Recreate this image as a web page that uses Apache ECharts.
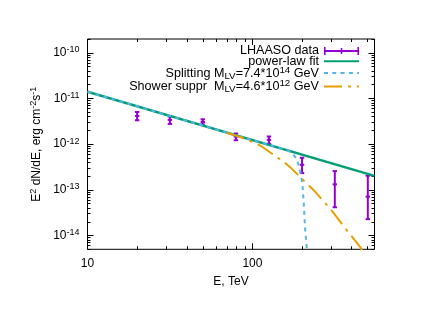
<!DOCTYPE html>
<html><head><meta charset="utf-8">
<script src="https://cdn.jsdelivr.net/npm/echarts@6/dist/echarts.min.js"></script>
<style>html,body{margin:0;padding:0;background:#fff}#c{width:441px;height:312px}</style>
</head><body><div id="c"></div>
<script>
// ---- data ----
const dataEnergy = [20, 31.6, 50, 79.4, 126, 200, 316, 501];
const dataFlux   = [4.14e-12, 3.39e-12, 3.06e-12, 1.47e-12, 1.24e-12, 3.54e-13, 1.32e-13, 7.1e-14];
const dataLow    = [3.33e-12, 2.77e-12, 2.69e-12, 1.22e-12, 1.02e-12, 2.33e-13, 4.16e-14, 2.28e-14];
const dataHigh   = [5.06e-12, 4.02e-12, 3.50e-12, 1.71e-12, 1.47e-12, 5.03e-13, 2.57e-13, 2.04e-13];

const fitEnergy = [10, 550];
const fitFlux   = [1.40e-11, 2.02e-13];

const splitEnergy = [10, 50, 100, 150, 165, 175, 185, 192, 197, 201, 204.5, 208.5, 214, 218];
const splitFlux   = [1.40e-11, 2.55e-12, 1.225e-12, 7.98e-13, 7.15e-13, 6.3e-13, 4.8e-13, 3.3e-13, 2.1e-13, 1.35e-13, 5.5e-14, 1.5e-14, 5e-15, 3e-15];

const showerEnergy = [70, 85, 104, 114, 137, 154, 170, 200, 237, 303, 374, 451, 480];
const showerFlux   = [1.78e-12, 1.42e-12, 1.05e-12, 8.9e-13, 5.55e-13, 4.2e-13, 3.1e-13, 1.73e-13, 9.6e-14, 3.5e-14, 1.29e-14, 5.6e-15, 3.5e-15];

const xMajorTicks = [10, 100];
const xMinorTicks = [20, 30, 40, 50, 60, 70, 80, 90, 200, 300, 400, 500];
const yMajorTicks = [1e-14, 1e-13, 1e-12, 1e-11, 1e-10];
const yMinorMult = [2, 3, 4, 5, 6, 7, 8, 9];
const yDecades = [1e-15, 1e-14, 1e-13, 1e-12, 1e-11, 1e-10];

const seriesNames = ['LHAASO data', 'power-law fit', 'Splitting', 'Shower suppr'];
const legendText = {
  'LHAASO data': '{n|LHAASO data}',
  'power-law fit': '{n|power-law fit}',
  'Splitting': '{n|Splitting M}{sub|LV}{n|=7.4*10}{sup|14}{n| GeV}',
  'Shower suppr': '{n|Shower suppr  M}{sub|LV}{n|=4.6*10}{sup|12}{n| GeV}'
};

const X_MIN = 10, X_MAX = 550, Y_MIN = 5e-15, Y_MAX = 2e-10;
const FONT = 'Liberation Sans';
const yMinorTicks = [];
yDecades.forEach(d => yMinorMult.forEach(m => {
  const v = +(m * d).toPrecision(3);
  if (v >= Y_MIN && v <= Y_MAX) yMinorTicks.push(v);
}));

const pair = (xs, ys) => xs.map((x, i) => [x, ys[i]]);
const richStyles = {
  n: {fontSize: 12, lineHeight: 15, fontFamily: FONT, color: '#000'},
  sup: {fontSize: 9, lineHeight: 9, verticalAlign: 'top', fontFamily: FONT, color: '#000'},
  sub: {fontSize: 9, lineHeight: 9, verticalAlign: 'bottom', fontFamily: FONT, color: '#000'}
};
const legendRich = {
  n: {fontSize: 12.6, lineHeight: 16, fontFamily: FONT, color: '#000'},
  sup: {fontSize: 9.8, lineHeight: 10, verticalAlign: 'top', fontFamily: FONT, color: '#000'},
  sub: {fontSize: 9.8, lineHeight: 10, verticalAlign: 'bottom', fontFamily: FONT, color: '#000'}
};

function tickAxis(kind, pos, vals, len, labels) {
  const isX = kind === 'x';
  const ax = {
    type: 'log', logBase: 10, gridIndex: 0, position: pos,
    min: isX ? X_MIN : Y_MIN, max: isX ? X_MAX : Y_MAX,
    axisLine: {show: false},
    splitLine: {show: false},
    minorTick: {show: false},
    axisTick: {show: true, inside: true, length: len, customValues: vals, lineStyle: {color: '#000', width: 1}},
    axisLabel: {show: false}
  };
  if (labels) {
    ax.axisLabel = {
      show: true, customValues: vals, margin: 8, color: '#000', fontSize: 12, fontFamily: FONT,
      formatter: isX ? (v => String(Math.round(v))) : (v => '{n|10}{sup|' + Math.round(Math.log10(v)) + '}'),
      rich: richStyles
    };
  }
  return ax;
}

const xAxes = [
  Object.assign(tickAxis('x', 'bottom', xMajorTicks, 6, true), {
    name: 'E, TeV', nameLocation: 'middle', nameGap: 26,
    nameTextStyle: {fontSize: 12, fontFamily: FONT, color: '#000'}
  }),
  tickAxis('x', 'top', xMajorTicks, 6, false),
  tickAxis('x', 'bottom', xMinorTicks, 3, false),
  tickAxis('x', 'top', xMinorTicks, 3, false)
];
const yAxes = [
  Object.assign(tickAxis('y', 'left', yMajorTicks, 6, true), {
    name: '{n|E}{sup|2}{n| dN/dE, erg cm}{sup|-2}{n|s}{sup|-1}',
    nameLocation: 'middle', nameGap: 42, nameRotate: 90,
    nameTextStyle: {fontSize: 12, fontFamily: FONT, color: '#000', rich: richStyles}
  }),
  tickAxis('y', 'right', yMajorTicks, 6, false),
  tickAxis('y', 'left', yMinorTicks, 3, false),
  tickAxis('y', 'right', yMinorTicks, 3, false)
];

const errData = dataEnergy.map((e, i) => [e, dataFlux[i], dataLow[i], dataHigh[i]]);

const chart = echarts.init(document.getElementById('c'), null, {renderer: 'canvas'});
chart.setOption({
  animation: false,
  backgroundColor: '#fff',
  grid: {left: 87.5, right: 66.5, top: 39, bottom: 62.7, show: true, borderColor: '#000', borderWidth: 1, backgroundColor: 'transparent'},
  xAxis: xAxes,
  yAxis: yAxes,
  legend: {
    orient: 'vertical', right: 81, top: 44.5, padding: 0, align: 'right',
    itemWidth: 35, itemHeight: 8, itemGap: -2.7, selectedMode: false,
    formatter: name => legendText[name],
    textStyle: {fontSize: 12.6, fontFamily: FONT, color: '#000', rich: legendRich},
    data: [
      {name: 'LHAASO data', icon: 'path://M0,3L35,3L35,5L0,5Z M0,0L1.6,0L1.6,8L0,8Z M16.7,1L18.3,1L18.3,7L16.7,7Z M33.4,0L35,0L35,8L33.4,8Z', itemStyle: {color: '#9400d3'}},
      {name: 'power-law fit', itemStyle: {opacity: 0}},
      {name: 'Splitting', itemStyle: {opacity: 0}},
      {name: 'Shower suppr', itemStyle: {opacity: 0}}
    ]
  },
  series: [
    {
      name: seriesNames[0], type: 'custom', xAxisIndex: 0, yAxisIndex: 0,
      itemStyle: {color: '#9400d3'},
      encode: {x: 0, y: 1},
      data: errData,
      renderItem: function (params, api) {
        const x = api.value(0);
        const pc = api.coord([x, api.value(1)]);
        const pl = api.coord([x, api.value(2)]);
        const ph = api.coord([x, api.value(3)]);
        const st = {stroke: '#9400d3', lineWidth: 2, fill: null};
        const w = 2.2;
        const seg = (x1, y1, x2, y2) => ({type: 'line', shape: {x1, y1, x2, y2}, style: st});
        return {type: 'group', children: [
          seg(pl[0], pl[1], ph[0], ph[1]),
          seg(pl[0] - w, pl[1], pl[0] + w, pl[1]),
          seg(ph[0] - w, ph[1], ph[0] + w, ph[1]),
          seg(pc[0] - w, pc[1], pc[0] + w, pc[1])
        ]};
      }
    },
    {
      name: seriesNames[1], type: 'line', xAxisIndex: 0, yAxisIndex: 0,
      data: pair(fitEnergy, fitFlux), symbol: 'none', showSymbol: false,
      lineStyle: {color: '#009e73', width: 2.5}, itemStyle: {color: '#009e73'}
    },
    {
      name: seriesNames[2], type: 'line', xAxisIndex: 0, yAxisIndex: 0,
      data: pair(splitEnergy, splitFlux), symbol: 'none', showSymbol: false,
      lineStyle: {color: '#56b4e9', width: 2, type: [4, 4.3]}, itemStyle: {color: '#56b4e9'}
    },
    {
      name: seriesNames[3], type: 'line', xAxisIndex: 0, yAxisIndex: 0,
      data: pair(showerEnergy, showerFlux), symbol: 'none', showSymbol: false,
      lineStyle: {color: '#e69f00', width: 2, type: [18, 6, 3, 6]}, itemStyle: {color: '#e69f00'}
    }
  ]
});
</script>
</body></html>
